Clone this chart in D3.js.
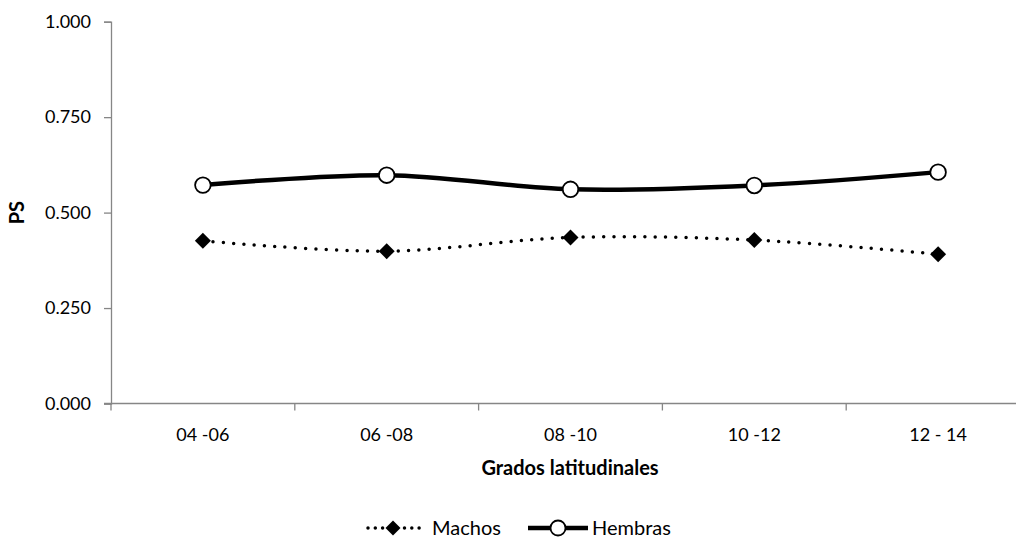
<!DOCTYPE html>
<html><head><meta charset="utf-8">
<script src="https://cdn.jsdelivr.net/npm/d3@7"></script>
<style>body{margin:0;background:#fff}svg{display:block}</style>
</head><body>
<svg id="c" width="1016" height="538"></svg>
<script>
const categories = ["04 -06", "06 -08", "08 -10", "10 -12", "12 - 14"];
const machos = [0.426, 0.399, 0.435, 0.428, 0.391];
const hembras = [0.572, 0.598, 0.561, 0.571, 0.606];
const yTicks = [0, 0.25, 0.5, 0.75, 1.0];

const svg = d3.select("#c");
const font = "Lato, 'Open Sans', sans-serif";
const axisColor = "#868686";

const x = d3.scaleBand().domain(categories).range([111, 1030]);
const y = d3.scaleLinear().domain([0, 1]).range([403.5, 21.7]);
const cx = d => x(d) + x.bandwidth() / 2;

// Y axis
const gy = svg.append("g").attr("transform", "translate(111,0)")
  .call(d3.axisLeft(y).tickValues(yTicks).tickFormat(d3.format(".3f")).tickSize(7).tickPadding(13));
gy.select(".domain").attr("stroke", axisColor).attr("stroke-width", 1.3);
gy.selectAll(".tick line").attr("stroke", axisColor).attr("stroke-width", 1.3);
gy.selectAll("text").attr("font-family", font).attr("font-size", 18).attr("fill", "#000");

// X axis
const gx = svg.append("g").attr("transform", `translate(0,${y(0)})`);
gx.append("line").attr("x1", 104).attr("x2", 1030).attr("y1", 0).attr("y2", 0)
  .attr("stroke", axisColor).attr("stroke-width", 1.3);
const bounds = categories.map(c => x(c)).concat([x.range()[1]]);
gx.selectAll("line.tk").data(bounds).join("line").attr("class", "tk")
  .attr("x1", d => d).attr("x2", d => d).attr("y1", 0).attr("y2", 7)
  .attr("stroke", axisColor).attr("stroke-width", 1.3);
gx.selectAll("text").data(categories).join("text")
  .attr("x", d => cx(d)).attr("y", 37.5).attr("text-anchor", "middle")
  .attr("font-family", font).attr("font-size", 18).text(d => d);

// Axis titles
svg.append("text").attr("x", 570).attr("y", 475).attr("text-anchor", "middle")
  .attr("font-family", font).attr("font-size", 20).attr("font-weight", "bold").text("Grados latitudinales");
svg.append("text").attr("transform", `translate(24,${y(0.5)}) rotate(-90)`).attr("text-anchor", "middle")
  .attr("font-family", font).attr("font-size", 20).attr("font-weight", "bold").text("PS");

const line = d3.line().x((d, i) => cx(categories[i])).y(d => y(d)).curve(d3.curveCatmullRom.alpha(0));

// Machos dotted
svg.append("path").datum(machos).attr("d", line).attr("fill", "none")
  .attr("stroke", "#000").attr("stroke-width", 3.5).attr("stroke-linecap", "round")
  .attr("stroke-dasharray", "0 10.3");
// Hembras solid
svg.append("path").datum(hembras).attr("d", line).attr("fill", "none")
  .attr("stroke", "#000").attr("stroke-width", 4.5);

const diamond = (cxp, cyp, r) => `M${cxp},${cyp - r}L${cxp + r},${cyp}L${cxp},${cyp + r}L${cxp - r},${cyp}Z`;
svg.selectAll("path.dm").data(machos).join("path").attr("class", "dm")
  .attr("d", (d, i) => diamond(cx(categories[i]), y(d), 8)).attr("fill", "#000");
svg.selectAll("circle.hm").data(hembras).join("circle").attr("class", "hm")
  .attr("cx", (d, i) => cx(categories[i])).attr("cy", d => y(d)).attr("r", 7.8)
  .attr("fill", "#fff").attr("stroke", "#000").attr("stroke-width", 1.8);

// Legend
const ly = 528;
const lg = svg.append("g");
lg.append("line").attr("x1", 368).attr("x2", 420).attr("y1", ly).attr("y2", ly)
  .attr("stroke", "#000").attr("stroke-width", 3.5).attr("stroke-linecap", "round").attr("stroke-dasharray", "0 7.3");
lg.append("path").attr("d", diamond(393, ly, 7.5)).attr("fill", "#000");
lg.append("text").attr("x", 432).attr("y", ly + 7).attr("font-family", font).attr("font-size", 20).text("Machos");
lg.append("line").attr("x1", 528).attr("x2", 588).attr("y1", ly).attr("y2", ly)
  .attr("stroke", "#000").attr("stroke-width", 4.5);
lg.append("circle").attr("cx", 558).attr("cy", ly).attr("r", 7.5)
  .attr("fill", "#fff").attr("stroke", "#000").attr("stroke-width", 1.8);
lg.append("text").attr("x", 592).attr("y", ly + 7).attr("font-family", font).attr("font-size", 20).text("Hembras");
</script>
</body></html>
